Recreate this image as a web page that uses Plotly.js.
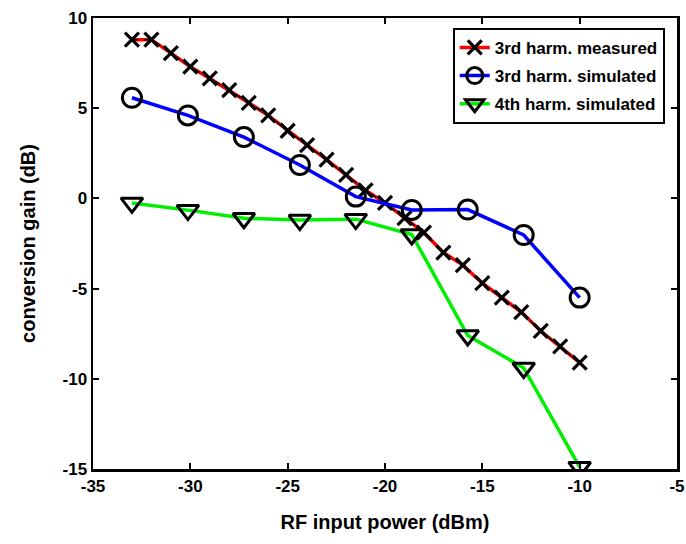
<!DOCTYPE html>
<html><head><meta charset="utf-8">
<script src="https://cdn.plot.ly/plotly-3.0.1.min.js"></script>
<style>html,body{margin:0;padding:0;background:#fff}</style>
</head><body>
<div id="chart" style="width:686px;height:544px"></div>
<script>
// RF input power (dBm)
const measX = [-33,-32,-31,-30,-29,-28,-27,-26,-25,-24,-23,-22,-21,-20,-19,-18,-17,-16,-15,-14,-13,-12,-11,-10];
const measY = [8.8,8.8,8.05,7.3,6.65,6.0,5.3,4.6,3.75,2.95,2.15,1.3,0.45,-0.25,-1.1,-1.9,-3.0,-3.7,-4.7,-5.5,-6.3,-7.35,-8.2,-9.1];
const simX = [-33,-30.125,-27.25,-24.375,-21.5,-18.625,-15.75,-12.875,-10];
const sim3Y = [5.58,4.6,3.4,1.85,0.1,-0.64,-0.62,-2.03,-5.5];
const sim4Y = [-0.25,-0.65,-1.1,-1.2,-1.15,-2.0,-7.6,-9.4,-14.9];
const names = ['3rd harm. measured','3rd harm. simulated','4th harm. simulated'];
const xTicks = [-35,-30,-25,-20,-15,-10,-5];
const yTicks = [-15,-10,-5,0,5,10];

const FAM = 'Liberation Sans, Arial, sans-serif';
const mk = (sym, size) => ({symbol: sym, size: size, color: '#000', line: {color: '#000', width: 3}});
const traces = [
  {x: measX, y: measY, mode: 'lines+markers', name: names[0], legendgroup: 'a',
   line: {color: '#ff0000', width: 3.5}, marker: {symbol: 'x-thin-open', size: 14, color: '#000', line: {color: '#000', width: 3.2}}},
  {x: measX, y: measY, mode: 'lines', showlegend: false, hoverinfo: 'skip', legendgroup: 'a',
   line: {color: '#000', width: 1.5, dash: '6px,6px'}},
  {x: simX, y: sim3Y, mode: 'lines+markers', name: names[1], legendgroup: 'b',
   line: {color: '#0000ff', width: 3.5}, marker: mk('circle-open', 19)},
  {x: simX, y: sim4Y, mode: 'lines+markers', name: names[2], legendgroup: 'c',
   line: {color: '#00ee00', width: 3.5}, marker: mk('triangle-down-open', 19)}
];
const layout = {
  width: 686, height: 544,
  margin: {l: 93, r: 9, t: 18, b: 75},
  paper_bgcolor: '#fff', plot_bgcolor: '#fff',
  font: {family: FAM, size: 14, color: '#000'},
  showlegend: true,
  xaxis: {range: [-35, -5], tickvals: xTicks, ticktext: xTicks.map(String),
    ticks: 'inside', ticklen: 6, tickwidth: 2, tickcolor: '#000',
    showline: true, linecolor: '#000', linewidth: 2.5, mirror: 'ticks',
    showgrid: false, zeroline: false,
    tickfont: {family: FAM, size: 17, weight: 'bold'},
    title: {text: 'RF input power (dBm)', standoff: 20, font: {family: FAM, size: 20, weight: 'bold'}}},
  yaxis: {range: [-15, 10], tickvals: yTicks, ticktext: yTicks.map(String),
    ticks: 'inside', ticklen: 6, tickwidth: 2, tickcolor: '#000',
    showline: true, linecolor: '#000', linewidth: 2.5, mirror: 'ticks',
    showgrid: false, zeroline: false,
    tickfont: {family: FAM, size: 17, weight: 'bold'},
    title: {text: 'conversion gain (dB)', standoff: 22, font: {family: FAM, size: 20, weight: 'bold'}}},
  legend: {x: 0.979, y: 0.978, xanchor: 'right', yanchor: 'top',
    bordercolor: '#000', borderwidth: 2, bgcolor: '#fff',
    font: {family: FAM, size: 17, weight: 'bold'},
    tracegroupgap: 3}
};
Plotly.newPlot('chart', traces, layout, {displayModeBar: false, staticPlot: true});
</script>
</body></html>
